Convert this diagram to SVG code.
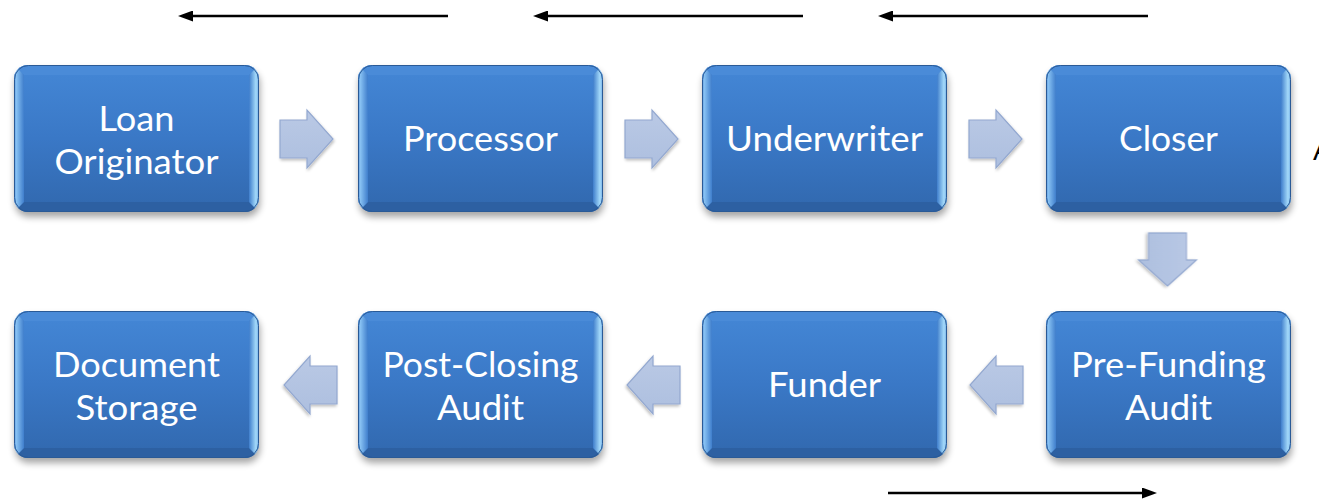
<svg xmlns="http://www.w3.org/2000/svg" xmlns:xlink="http://www.w3.org/1999/xlink" width="1319" height="500" viewBox="0 0 1319 500">
<style>
  .lbl { font-family: "Lato", "Open Sans", "Liberation Sans", sans-serif; font-size: 35px; fill: #ffffff; text-anchor: middle; }
  .blk { stroke: #000000; stroke-width: 2.5; fill: none; }
  .barrow { fill: url(#arrFill); stroke: #93a8d0; stroke-width: 1.2; filter: url(#arrShadow); }
</style>
<defs>
  <linearGradient id="face" x1="0" y1="0" x2="0" y2="1">
    <stop offset="0" stop-color="#4487d6"/>
    <stop offset="0.5" stop-color="#3a78c6"/>
    <stop offset="1" stop-color="#3168ae"/>
  </linearGradient>
  <linearGradient id="bevL" x1="0" y1="0" x2="1" y2="0">
    <stop offset="0" stop-color="#5f9be0"/>
    <stop offset="0.25" stop-color="#86c0f2"/>
    <stop offset="1" stop-color="#3f7ecc"/>
  </linearGradient>
  <linearGradient id="bevR" x1="0" y1="0" x2="1" y2="0">
    <stop offset="0" stop-color="#3f7ecc"/>
    <stop offset="0.7" stop-color="#a4dafa"/>
    <stop offset="1" stop-color="#6fa9e4"/>
  </linearGradient>
  <linearGradient id="arrFill" x1="0" y1="0" x2="0" y2="1">
    <stop offset="0" stop-color="#bac9e5"/>
    <stop offset="1" stop-color="#adbfdf"/>
  </linearGradient>
  <filter id="boxShadow" x="-10%" y="-10%" width="120%" height="130%">
    <feGaussianBlur stdDeviation="3.5"/>
  </filter>
  <filter id="arrShadow" x="-20%" y="-20%" width="150%" height="150%">
    <feGaussianBlur in="SourceAlpha" stdDeviation="1.5"/>
    <feOffset dx="1" dy="2" result="b"/>
    <feComponentTransfer><feFuncA type="linear" slope="0.25"/></feComponentTransfer>
    <feMerge><feMergeNode/><feMergeNode in="SourceGraphic"/></feMerge>
  </filter>
  <clipPath id="boxClip">
    <rect x="0" y="0" width="245" height="147" rx="14"/>
  </clipPath>
  <g id="box">
    <rect x="1" y="5" width="245" height="147" rx="14" fill="#000" opacity="0.35" filter="url(#boxShadow)"/>
    <g clip-path="url(#boxClip)">
      <rect x="0" y="0" width="245" height="147" fill="url(#face)"/>
      <polygon points="0,0 245,0 235,10 10,10" fill="#4a8bd8"/>
      <polygon points="0,147 245,147 235,137 10,137" fill="#2d60a2"/>
      <polygon points="0,0 10,10 10,137 0,147" fill="url(#bevL)"/>
      <polygon points="245,0 235,10 235,137 245,147" fill="url(#bevR)"/>
    </g>
    <rect x="0.5" y="0.5" width="244" height="146" rx="14" fill="none" stroke="#2a5a96" stroke-width="1"/>
  </g>
  <path id="arr" d="M0,-19 H27 V-29 L53,0 L27,29 V19 H0 Z"/>
  <marker id="head" markerUnits="userSpaceOnUse" markerWidth="15" markerHeight="11" refX="2" refY="5.5" orient="auto">
    <path d="M0,0 L15,5.5 L0,11 Z" fill="#000"/>
  </marker>
</defs>

<g id="connectors">
  <use xlink:href="#arr" class="barrow" transform="translate(280,139)"/>
  <use xlink:href="#arr" class="barrow" transform="translate(625,139)"/>
  <use xlink:href="#arr" class="barrow" transform="translate(969,139)"/>
  <use xlink:href="#arr" class="barrow" transform="translate(1167.5,233) rotate(90)"/>
  <use xlink:href="#arr" class="barrow" transform="translate(1023,385) scale(-1,1)"/>
  <use xlink:href="#arr" class="barrow" transform="translate(680,385) scale(-1,1)"/>
  <use xlink:href="#arr" class="barrow" transform="translate(337,385) scale(-1,1)"/>
</g>

<g id="direction-arrows">
  <line class="blk" x1="448" y1="16" x2="191" y2="16" marker-end="url(#head)"/>
  <line class="blk" x1="803" y1="16" x2="546" y2="16" marker-end="url(#head)"/>
  <line class="blk" x1="1148" y1="16" x2="891" y2="16" marker-end="url(#head)"/>
  <line class="blk" x1="888" y1="493" x2="1144" y2="493" marker-end="url(#head)"/>
</g>

<g id="node-loan-originator">
  <use xlink:href="#box" transform="translate(14,65)"/>
  <text class="lbl" x="136.5" y="131" textLength="76" lengthAdjust="spacingAndGlyphs">Loan</text>
  <text class="lbl" x="136.5" y="174" textLength="164" lengthAdjust="spacingAndGlyphs">Originator</text>
</g>
<g id="node-processor">
  <use xlink:href="#box" transform="translate(358,65)"/>
  <text class="lbl" x="480.5" y="151" textLength="155" lengthAdjust="spacingAndGlyphs">Processor</text>
</g>
<g id="node-underwriter">
  <use xlink:href="#box" transform="translate(702,65)"/>
  <text class="lbl" x="824.5" y="151" textLength="197" lengthAdjust="spacingAndGlyphs">Underwriter</text>
</g>
<g id="node-closer">
  <use xlink:href="#box" transform="translate(1046,65)"/>
  <text class="lbl" x="1168.5" y="151" textLength="99" lengthAdjust="spacingAndGlyphs">Closer</text>
</g>
<g id="node-pre-funding-audit">
  <use xlink:href="#box" transform="translate(1046,311)"/>
  <text class="lbl" x="1168.5" y="377" textLength="195" lengthAdjust="spacingAndGlyphs">Pre-Funding</text>
  <text class="lbl" x="1168.5" y="420" textLength="87" lengthAdjust="spacingAndGlyphs">Audit</text>
</g>
<g id="node-funder">
  <use xlink:href="#box" transform="translate(702,311)"/>
  <text class="lbl" x="824.5" y="397" textLength="113" lengthAdjust="spacingAndGlyphs">Funder</text>
</g>
<g id="node-post-closing-audit">
  <use xlink:href="#box" transform="translate(358,311)"/>
  <text class="lbl" x="480.5" y="377" textLength="196" lengthAdjust="spacingAndGlyphs">Post-Closing</text>
  <text class="lbl" x="480.5" y="420" textLength="87" lengthAdjust="spacingAndGlyphs">Audit</text>
</g>
<g id="node-document-storage">
  <use xlink:href="#box" transform="translate(14,311)"/>
  <text class="lbl" x="136.5" y="377" textLength="167" lengthAdjust="spacingAndGlyphs">Document</text>
  <text class="lbl" x="136.5" y="420" textLength="122" lengthAdjust="spacingAndGlyphs">Storage</text>
</g>

<text x="1313" y="160" font-family="Liberation Sans, sans-serif" font-size="28" fill="#000">A</text>
</svg>
